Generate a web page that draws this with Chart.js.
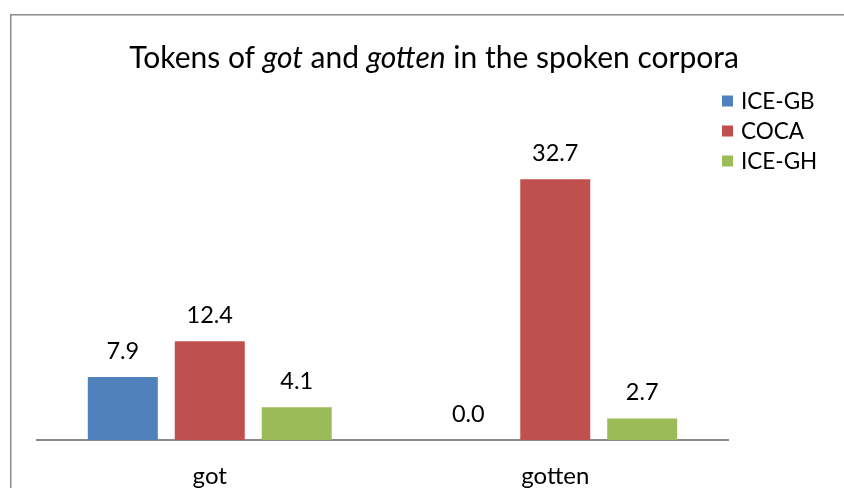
<!DOCTYPE html>
<html>
<head>
<meta charset="utf-8">
<script src="https://cdn.jsdelivr.net/npm/chart.js@4/dist/chart.umd.min.js"></script>
<style>
html,body{margin:0;padding:0;background:#fff;}
#wrap{position:relative;width:844px;height:488px;}
</style>
</head>
<body>
<div id="wrap"><canvas id="c" width="844" height="488"></canvas></div>
<script>
const categories = ["got", "gotten"];
const seriesNames = ["ICE-GB", "COCA", "ICE-GH"];
const iceGB = [7.9, 0.0];
const coca = [12.4, 32.7];
const iceGH = [4.1, 2.7];
const seriesColors = ["#4F81BD", "#C0504D", "#9BBB59"];
const titleParts = [["Tokens of ", false], ["got", true], [" and ", false], ["gotten", true], [" in the spoken corpora", false]];

const FONT = "Lato, 'Noto Sans', sans-serif";

const framePlugin = {
  id: 'frame',
  beforeDraw(chart) {
    const ctx = chart.ctx;
    ctx.save();
    ctx.fillStyle = '#fff';
    ctx.fillRect(0, 0, chart.width, chart.height);
    ctx.strokeStyle = '#8c8c8c';
    ctx.lineWidth = 1.5;
    ctx.beginPath();
    ctx.moveTo(10.75, chart.height + 5);
    ctx.lineTo(10.75, 14.75);
    ctx.lineTo(chart.width + 5, 14.75);
    ctx.stroke();
    ctx.restore();
  }
};

const titlePlugin = {
  id: 'mixedTitle',
  afterDraw(chart) {
    const ctx = chart.ctx;
    ctx.save();
    const size = 30;
    let total = 0;
    const widths = titleParts.map(([t, it]) => {
      ctx.font = (it ? 'italic ' : '') + size + 'px ' + FONT;
      const w = ctx.measureText(t).width;
      total += w;
      return w;
    });
    let x = 434 - total / 2;
    ctx.fillStyle = '#000';
    ctx.textBaseline = 'middle';
    ctx.textAlign = 'left';
    titleParts.forEach(([t, it], i) => {
      ctx.font = (it ? 'italic ' : '') + size + 'px ' + FONT;
      ctx.fillText(t, x, 58);
      x += widths[i];
    });
    ctx.restore();
  }
};

const legendPlugin = {
  id: 'sideLegend',
  afterDraw(chart) {
    const ctx = chart.ctx;
    ctx.save();
    ctx.font = '22.5px ' + FONT;
    ctx.textBaseline = 'middle';
    ctx.textAlign = 'left';
    chart.data.datasets.forEach((ds, i) => {
      const y = 101 + i * 30;
      ctx.fillStyle = ds.backgroundColor;
      ctx.fillRect(722, y - 5.5, 11, 11);
      ctx.fillStyle = '#000';
      ctx.fillText(ds.label, 741, y + 1);
    });
    ctx.restore();
  }
};

const valueLabelPlugin = {
  id: 'valueLabels',
  afterDatasetsDraw(chart) {
    const ctx = chart.ctx;
    ctx.save();
    ctx.font = '23.5px ' + FONT;
    ctx.fillStyle = '#000';
    ctx.textAlign = 'center';
    ctx.textBaseline = 'middle';
    chart.data.datasets.forEach((ds, i) => {
      const meta = chart.getDatasetMeta(i);
      meta.data.forEach((bar, j) => {
        ctx.fillText(ds.data[j].toFixed(1), bar.x, bar.y - 26);
      });
    });
    ctx.restore();
  }
};

const seriesData = [iceGB, coca, iceGH];

new Chart(document.getElementById('c'), {
  type: 'bar',
  data: {
    labels: categories,
    datasets: seriesNames.map((name, i) => ({
      label: name,
      data: seriesData[i],
      backgroundColor: seriesColors[i],
      borderWidth: 0,
      categoryPercentage: 0.755,
      barPercentage: 0.805
    }))
  },
  options: {
    responsive: false,
    animation: false,
    devicePixelRatio: 1,
    layout: { padding: { left: 37, right: 116, top: 161, bottom: 0 } },
    plugins: { legend: { display: false }, title: { display: false }, tooltip: { enabled: false } },
    scales: {
      x: {
        grid: { display: false, drawTicks: false },
        border: { display: true, color: '#8c8c8c', width: 2 },
        ticks: { color: '#000', font: { family: FONT, size: 24 }, padding: 22 },
        afterFit(scale) { scale.height = 48; }
      },
      y: {
        display: false,
        min: 0,
        max: 35
      }
    }
  },
  plugins: [framePlugin, titlePlugin, legendPlugin, valueLabelPlugin]
});
</script>
</body>
</html>
